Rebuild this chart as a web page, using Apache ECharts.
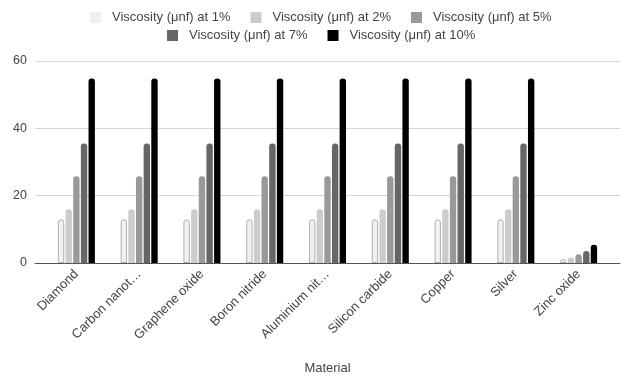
<!DOCTYPE html>
<html>
<head>
<meta charset="utf-8">
<script src="https://cdn.jsdelivr.net/npm/echarts@6/dist/echarts.min.js"></script>
<style>
html,body{margin:0;padding:0;background:#fff;}
#chart{width:621px;height:376px;}
</style>
</head>
<body>
<div id="chart"></div>
<script>
const categories = ['Diamond', 'Carbon nanot…', 'Graphene oxide', 'Boron nitride', 'Aluminium nit…', 'Silicon carbide', 'Copper', 'Silver', 'Zinc oxide'];
const seriesNames = ['Viscosity (μnf) at 1%', 'Viscosity (μnf) at 2%', 'Viscosity (μnf) at 5%', 'Viscosity (μnf) at 7%', 'Viscosity (μnf) at 10%'];
const at1 = [13, 13, 13, 13, 13, 13, 13, 13, 1.2];
const at2 = [16, 16, 16, 16, 16, 16, 16, 16, 1.6];
const at5 = [25.8, 25.8, 25.8, 25.8, 25.8, 25.8, 25.8, 25.8, 2.6];
const at7 = [35.5, 35.5, 35.5, 35.5, 35.5, 35.5, 35.5, 35.5, 3.6];
const at10 = [54.8, 54.8, 54.8, 54.8, 54.8, 54.8, 54.8, 54.8, 5.4];
const yTicks = [0, 20, 40, 60];

const values = [at1, at2, at5, at7, at10];
const colors = ['#f0f0f0', '#cccccc', '#999999', '#666666', '#000000'];
const font = 'Liberation Sans, Arial, sans-serif';

const chart = echarts.init(document.getElementById('chart'), null, {renderer: 'canvas'});
const series = seriesNames.map((name, i) => ({
  name: name,
  type: 'bar',
  xAxisIndex: 1,
  yAxisIndex: 1,
  data: values[i],
  barGap: '20%',
  barCategoryGap: '41%',
  itemStyle: {
    color: colors[i],
    borderRadius: [3, 3, 0, 0],
    borderColor: i === 0 ? '#b0b0b0' : colors[i],
    borderWidth: i === 0 ? 1 : 0
  }
}));

const legendText = {fontSize: 13, color: '#444', fontFamily: font, padding: [0, 0, 0, 6]};
const legendCommon = {
  itemWidth: 11, itemHeight: 11, itemGap: 20,
  icon: 'rect',
  itemStyle: {borderWidth: 0},
  textStyle: legendText
};
chart.setOption({
  animation: false,
  textStyle: {fontFamily: font},
  legend: [
    Object.assign({data: seriesNames.slice(0, 3), top: 6, left: 85}, legendCommon),
    Object.assign({data: seriesNames.slice(3), top: 24, left: 162}, legendCommon)
  ],
  grid: [
    {left: 35, right: 1, top: 61, bottom: 113, outerBoundsMode: 'none', containLabel: false},
    {left: 45, right: 11, top: 61, bottom: 113, outerBoundsMode: 'none', containLabel: false}
  ],
  xAxis: [
    {
      type: 'category', gridIndex: 0, data: categories,
      axisLine: {show: true, lineStyle: {color: '#555', width: 1}},
      axisTick: {show: false}, axisLabel: {show: false},
      name: 'Material', nameLocation: 'middle', nameGap: 99,
      nameTextStyle: {fontSize: 13, color: '#444', fontFamily: font}
    },
    {
      type: 'category', gridIndex: 1, data: categories,
      axisLine: {show: false}, axisTick: {show: false},
      axisLabel: {rotate: 45, fontSize: 13, color: '#444', margin: 9, interval: 0, fontFamily: font}
    }
  ],
  yAxis: [
    {
      type: 'value', gridIndex: 0, min: yTicks[0], max: yTicks[yTicks.length - 1], interval: 20,
      axisLine: {show: false}, axisTick: {show: false},
      axisLabel: {fontSize: 12.5, color: '#444', margin: 8, fontFamily: font},
      splitLine: {lineStyle: {color: '#d6d6d6', width: 1}}
    },
    {
      type: 'value', gridIndex: 1, min: yTicks[0], max: yTicks[yTicks.length - 1], interval: 20,
      show: false, splitLine: {show: false}
    }
  ],
  series: series
});
</script>
</body>
</html>
